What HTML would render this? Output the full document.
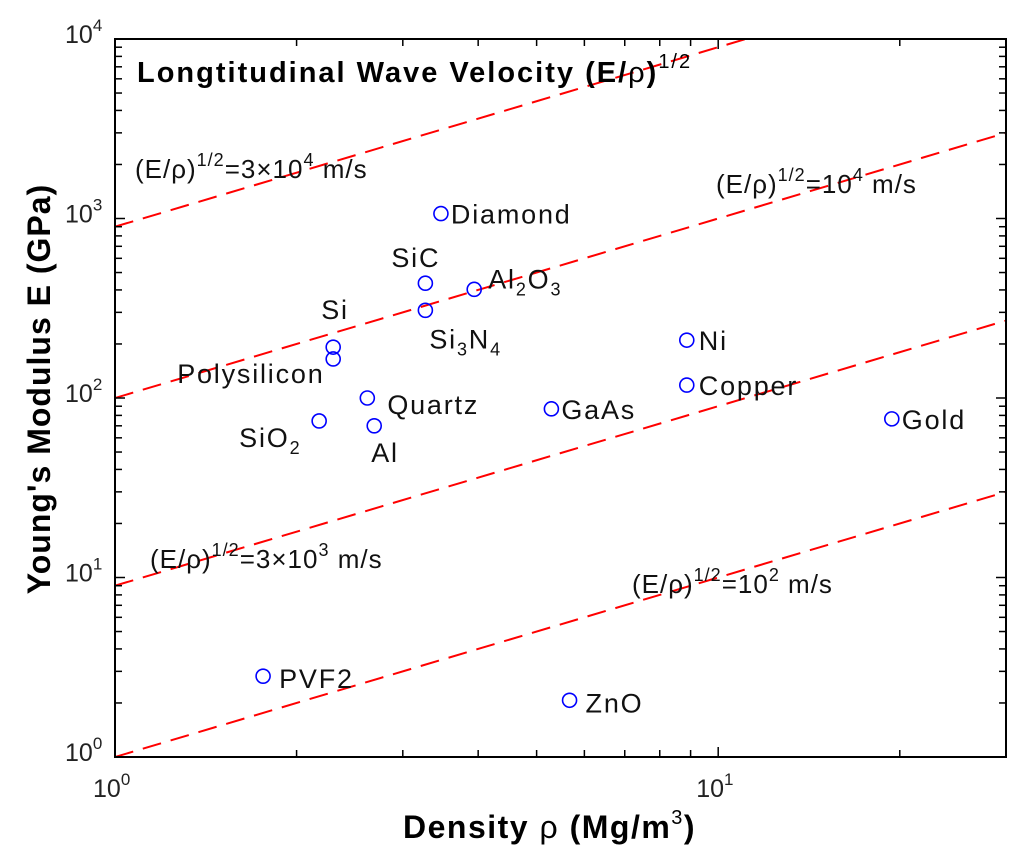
<!DOCTYPE html>
<html><head><meta charset="utf-8"><style>
body{margin:0;background:#fff}
svg{display:block;font-family:"Liberation Sans",Arial,sans-serif}
</style></head><body>
<svg id="chart" width="1024" height="860" viewBox="0 0 1024 860" xmlns="http://www.w3.org/2000/svg">
<rect x="0" y="0" width="1024" height="860" fill="#fff"/>
<g id="lines"></g>
<g id="pts"></g>
<g id="ticks"></g>
<rect x="115" y="39" width="891" height="718" fill="none" stroke="#000" stroke-width="2"/>
<text x="137" y="82" font-size="29" font-weight="bold" letter-spacing="2">Longtitudinal Wave Velocity (E/<tspan font-weight="normal">ρ</tspan>)<tspan font-size="20" font-weight="normal" dy="-14">1/2</tspan></text>
<g font-size="26" letter-spacing="1" fill="#111">
<text x="135" y="178">(E/ρ)<tspan font-size="18" dy="-12">1/2</tspan><tspan dy="12">=3×10</tspan><tspan font-size="18" dy="-12">4</tspan><tspan dy="12"> m/s</tspan></text>
<text x="716" y="193">(E/ρ)<tspan font-size="18" dy="-12">1/2</tspan><tspan dy="12">=10</tspan><tspan font-size="18" dy="-12">4</tspan><tspan dy="12"> m/s</tspan></text>
<text x="150" y="568">(E/ρ)<tspan font-size="18" dy="-12">1/2</tspan><tspan dy="12">=3×10</tspan><tspan font-size="18" dy="-12">3</tspan><tspan dy="12"> m/s</tspan></text>
<text x="632" y="593">(E/ρ)<tspan font-size="18" dy="-12">1/2</tspan><tspan dy="12">=10</tspan><tspan font-size="18" dy="-12">2</tspan><tspan dy="12"> m/s</tspan></text>
</g>
<text x="403" y="838" font-size="32" font-weight="bold" letter-spacing="1.5">Density <tspan font-weight="normal">ρ</tspan> (Mg/m<tspan font-size="20" dy="-14" font-weight="normal">3</tspan><tspan dy="14">)</tspan></text>
<text transform="translate(50,389) rotate(-90)" text-anchor="middle" font-size="32" font-weight="bold" letter-spacing="1">Young's Modulus E (GPa)</text>
</svg>
<script>
const names=["Diamond","SiC","Al2O3","Si3N4","Si","Polysilicon","Quartz","SiO2","Al","GaAs","Ni","Copper","Gold","PVF2","ZnO"];
const density=[3.47,3.27,3.94,3.27,2.30,2.30,2.62,2.18,2.69,5.29,8.87,8.87,19.4,1.76,5.67];
const modulus=[1065,436,403,308,192,165,100,74.5,70,87,210,118,76.5,2.82,2.07];
const lineCoef=[900,100,9,1];
const xTickLabels=["0","1"];
const yTickLabels=["0","1","2","3","4"];
const L=115,R=1006,T=39,B=757,XMAX=Math.log10(30);
const X=v=>L+(R-L)*Math.log10(v)/XMAX;
const Y=v=>B-(B-T)*Math.log10(v)/4;
const NS="http://www.w3.org/2000/svg";
function mk(tag,parent,attrs){const e=document.createElementNS(NS,tag);for(const k in attrs)e.setAttribute(k,attrs[k]);parent.appendChild(e);return e;}
const defs=mk('defs',document.getElementById('chart'),{});
const cp=mk('clipPath',defs,{id:'clip'});mk('rect',cp,{x:L,y:T,width:R-L,height:B-T});
const gl=document.getElementById('lines');
gl.setAttribute('clip-path','url(#clip)');
lineCoef.forEach((c,i)=>{
 const l=mk('line',gl,{x1:X(1),y1:Y(c),x2:X(30),y2:Y(c*30),stroke:'#f00','stroke-width':2,'stroke-dasharray':'19 10'});
 
 
});
const offs={Diamond:[10,10],SiC:[-34,-16],Al2O3:[14,-1],Si3N4:[4,38],Si:[-12,-28],Polysilicon:[-156,24],Quartz:[20,16],SiO2:[-80,26],Al:[-3,36],GaAs:[10,10],Ni:[12,10],Copper:[12,10],Gold:[10,10],PVF2:[16,12],ZnO:[16,12]};
const gp=document.getElementById('pts');
names.forEach((n,i)=>{
 const cx=X(density[i]),cy=Y(modulus[i]);
 const c=mk('circle',gp,{cx:cx,cy:cy,r:7,fill:'none',stroke:'#00f','stroke-width':1.6});
 
 
 const o=offs[n];
 const t=mk('text',gp,{x:cx+o[0],y:cy+o[1],'font-size':27,'letter-spacing':1.8,fill:'#111'});
 
 
 const m=n.match(/^([A-Za-z]+?)(\d)([A-Za-z]*)(\d?)$/);
 if(m&&n!=="PVF2"){
  t.innerHTML=m[1]+'<tspan font-size="18" dy="7">'+m[2]+'</tspan>'+(m[3]?'<tspan dy="-7">'+m[3]+'</tspan>':'')+(m[4]?'<tspan font-size="18" dy="7">'+m[4]+'</tspan>':'');
 } else t.textContent=n;
});
const gt=document.getElementById('ticks');
for(let d=0;d<2;d++)for(let k=1;k<10;k++){const v=k*Math.pow(10,d);if(v>30)break;const x=X(v);const len=k==1?10:7;
 const a=mk('line',gt,{x1:x,y1:B,x2:x,y2:B-len,stroke:'#000','stroke-width':1.5});
 const b=mk('line',gt,{x1:x,y1:T,x2:x,y2:T+len,stroke:'#000','stroke-width':1.5});}
for(let d=0;d<4;d++)for(let k=1;k<10;k++){const y=Y(k*Math.pow(10,d));const len=k==1?10:7;
 const a=mk('line',gt,{x1:L,y1:y,x2:L+len,y2:y,stroke:'#000','stroke-width':1.5});
 const b=mk('line',gt,{x1:R,y1:y,x2:R-len,y2:y,stroke:'#000','stroke-width':1.5});}
xTickLabels.forEach(e=>{const t=mk('text',gt,{x:X(Math.pow(10,+e))-22,y:B+40,'font-size':25,fill:'#222'});
 
 t.innerHTML='10<tspan font-size="17" dy="-12">'+e+'</tspan>';});
yTickLabels.forEach(e=>{const t=mk('text',gt,{x:L-50,y:Y(Math.pow(10,+e))+4,'font-size':25,fill:'#222'});
 
 t.innerHTML='10<tspan font-size="17" dy="-12">'+e+'</tspan>';});
</script>
</body></html>
